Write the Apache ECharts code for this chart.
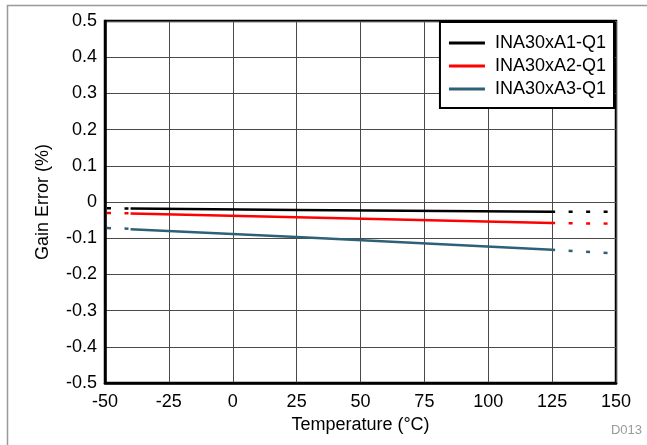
<!DOCTYPE html>
<html>
<head>
<meta charset="utf-8">
<script src="https://cdn.jsdelivr.net/npm/echarts@6/dist/echarts.min.js"></script>
<style>html,body{margin:0;padding:0;background:#fff}#c{width:647px;height:445px}</style>
</head>
<body>
<div id="c"></div>
<script>
// Data
var seriesNames = ['INA30xA1-Q1', 'INA30xA2-Q1', 'INA30xA3-Q1'];
var solidTemps = [-40, 25, 125];
var a1Solid = [-0.018, -0.022, -0.027];
var a2Solid = [-0.032, -0.042, -0.058];
var a3Solid = [-0.075, -0.097, -0.132];
var leftTemps = [-50, -40];
var a1Left = [-0.017, -0.018];
var a2Left = [-0.030, -0.031];
var a3Left = [-0.072, -0.074];
var rightTemps = [125, 150];
var a1Right = [-0.027, -0.027];
var a2Right = [-0.058, -0.060];
var a3Right = [-0.132, -0.142];
var xTicks = ['-50', '-25', '0', '25', '50', '75', '100', '125', '150'];
var yTicks = ['-0.5', '-0.4', '-0.3', '-0.2', '-0.1', '0', '0.1', '0.2', '0.3', '0.4', '0.5'];
var colors = ['#000000', '#ff0000', '#2e6178'];

function pairs(xs, ys) { return xs.map(function (x, i) { return [x, ys[i]]; }); }

var font = 'Liberation Sans, Arial, sans-serif';
var groups = [
  [a1Solid, a1Left, a1Right],
  [a2Solid, a2Left, a2Right],
  [a3Solid, a3Left, a3Right]
];
var series = [];
groups.forEach(function (g, i) {
  series.push({
    name: seriesNames[i], type: 'line', symbol: 'none', z: 3,
    data: pairs(solidTemps, g[0]),
    lineStyle: { color: colors[i], width: 2.5 }, itemStyle: { color: colors[i] }
  });
  series.push({
    name: seriesNames[i] + ' L', type: 'line', symbol: 'none', z: 3,
    data: pairs(leftTemps, g[1]),
    lineStyle: { color: colors[i], width: 2.5, type: [4, 13.5], dashOffset: 15.5 }
  });
  series.push({
    name: seriesNames[i] + ' R', type: 'line', symbol: 'none', z: 3,
    data: pairs(rightTemps, g[2]),
    lineStyle: { color: colors[i], width: 2.5, type: [4, 13.5], dashOffset: 1 }
  });
});

var chart = echarts.init(document.getElementById('c'), null, { renderer: 'canvas' });
chart.setOption({
  animation: false,
  backgroundColor: '#fff',
  textStyle: { fontFamily: font },
  grid: { left: 105, right: 31, top: 21, bottom: 62, show: true, borderColor: '#000', borderWidth: 2.5, backgroundColor: 'transparent' },
  graphic: [
    { type: 'rect', left: 5, top: 3, z: -10, silent: true,
      shape: { width: 700, height: 500 }, style: { fill: 'none', stroke: '#999', lineWidth: 1.5 } },
    { type: 'text', right: 5, bottom: 8, style: { text: 'D013', fill: '#999', font: '13px ' + font } }
  ],
  legend: {
    data: seriesNames, orient: 'vertical', right: 33, top: 22,
    backgroundColor: '#fff', borderColor: '#000', borderWidth: 2,
    padding: [12, 8, 10, 9], itemGap: 5, itemWidth: 36, itemHeight: 3, icon: 'rect',
    textStyle: { fontSize: 18, color: '#000', fontFamily: font, padding: [0, 0, 0, 5] }
  },
  xAxis: {
    type: 'value', min: -50, max: 150, interval: 25,
    name: 'Temperature (°C)', nameLocation: 'middle', nameGap: 32,
    nameTextStyle: { fontSize: 18, color: '#000', fontFamily: font },
    axisLine: { show: true, onZero: false, lineStyle: { color: '#000', width: 2.5 } },
    axisTick: { show: false },
    axisLabel: { fontSize: 18, color: '#000', margin: 10, fontFamily: font,
      formatter: function (v) { var i = Math.round((v + 50) / 25); return xTicks[i]; } },
    splitLine: { show: true, lineStyle: { color: '#4a4a4a', width: 1 } }
  },
  yAxis: {
    type: 'value', min: -0.5, max: 0.5, interval: 0.1,
    name: 'Gain Error (%)', nameLocation: 'middle', nameGap: 53, nameRotate: 90,
    nameTextStyle: { fontSize: 18, color: '#000', fontFamily: font },
    axisLine: { show: true, onZero: false, lineStyle: { color: '#000', width: 2.5 } },
    axisTick: { show: false },
    axisLabel: { fontSize: 18, color: '#000', margin: 8, fontFamily: font,
      formatter: function (v) { var i = Math.round((v + 0.5) / 0.1); return yTicks[i]; } },
    splitLine: { show: true, lineStyle: { color: '#4a4a4a', width: 1 } }
  },
  series: series
});
</script>
</body>
</html>
